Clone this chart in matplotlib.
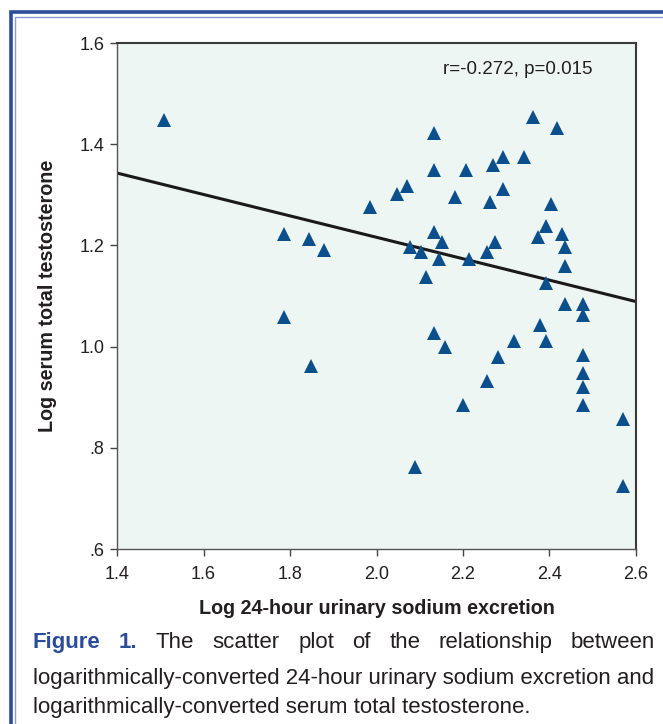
import matplotlib
matplotlib.use("Agg")
import matplotlib.pyplot as plt
from matplotlib.patches import Rectangle

plt.rcParams['font.family'] = ['Liberation Sans', 'DejaVu Sans']

# --- data ---
sodium_log = [1.509, 1.985, 1.787, 1.843, 1.879, 1.787, 1.849, 2.361, 2.417, 2.133,
              2.293, 2.342, 2.269, 2.133, 2.207, 2.071, 2.047, 2.293, 2.182, 2.262,
              2.404, 2.392, 2.373, 2.429, 2.435, 2.435, 2.133, 2.151, 2.077, 2.102,
              2.145, 2.114, 2.213, 2.275, 2.256, 2.392, 2.435, 2.478, 2.478, 2.379,
              2.133, 2.158, 2.318, 2.392, 2.281, 2.478, 2.478, 2.478, 2.478, 2.256,
              2.201, 2.571, 2.090, 2.571]
testo_log = [1.448, 1.275, 1.222, 1.212, 1.190, 1.058, 0.962, 1.454, 1.433, 1.422,
             1.375, 1.375, 1.358, 1.349, 1.349, 1.317, 1.301, 1.312, 1.296, 1.286,
             1.281, 1.238, 1.216, 1.222, 1.196, 1.159, 1.227, 1.206, 1.196, 1.186,
             1.174, 1.137, 1.174, 1.206, 1.186, 1.126, 1.084, 1.084, 1.063, 1.042,
             1.026, 0.999, 1.011, 1.011, 0.979, 0.984, 0.947, 0.921, 0.884, 0.932,
             0.884, 0.857, 0.762, 0.725]

# regression line end points
fit_x = [1.4, 2.6]
fit_y = [1.343, 1.089]

x_ticks = [1.4, 1.6, 1.8, 2.0, 2.2, 2.4, 2.6]
x_tick_labels = ['1.4', '1.6', '1.8', '2.0', '2.2', '2.4', '2.6']
y_ticks = [0.6, 0.8, 1.0, 1.2, 1.4, 1.6]
y_tick_labels = ['.6', '.8', '1.0', '1.2', '1.4', '1.6']

stats_text = 'r=-0.272, p=0.015'
caption_head = ['Figure', '1.']
caption_line1 = ['The', 'scatter', 'plot', 'of', 'the', 'relationship', 'between']
caption_line2 = 'logarithmically-converted 24-hour urinary sodium excretion and'
caption_line3 = 'logarithmically-converted serum total testosterone.'

W, H = 663, 724
TEXT = '#231f20'
BLUE = '#2b4c9b'

fig = plt.figure(figsize=(W / 100, H / 100), dpi=100)
fig.patch.set_facecolor('white')

# double frame round the figure (runs off right/bottom edge)
fig.add_artist(Rectangle((10.5 / W, -0.1), 2.0, 1.1 - 12.5 / H,
                         transform=fig.transFigure, fill=False,
                         edgecolor=BLUE, linewidth=2.6))
fig.add_artist(Rectangle((14.8 / W, -0.1), 2.0, 1.1 - 16.8 / H,
                         transform=fig.transFigure, fill=False,
                         edgecolor='#8a9bd0', linewidth=1.0))

ax = fig.add_axes([117 / W, 1 - 549 / H, (636 - 117) / W, (549 - 43) / H])
ax.set_facecolor('#eef6f3')

ax.plot(fit_x, fit_y, color='#1a1a1a', linewidth=2.2, zorder=2)
ax.plot(sodium_log, testo_log, linestyle='none', marker='^', markersize=9.5,
        color='#0b4f8c', markeredgewidth=0, zorder=3)

ax.set_xlim(1.4, 2.6)
ax.set_ylim(0.6, 1.6)
ax.set_xticks(x_ticks)
ax.set_xticklabels(x_tick_labels)
ax.set_yticks(y_ticks)
ax.set_yticklabels(y_tick_labels)
ax.tick_params(direction='out', length=5, width=1.0, color='#444444',
               labelsize=13, labelcolor=TEXT)
ax.tick_params(axis='x', pad=7)
ax.tick_params(axis='y', pad=4)
for side in ['left', 'bottom']:
    ax.spines[side].set_color('#555555')
    ax.spines[side].set_linewidth(1.0)
for side in ['top', 'right']:
    ax.spines[side].set_color('#3a3a3a')
    ax.spines[side].set_linewidth(1.5)

ax.set_xlabel('Log 24-hour urinary sodium excretion', fontsize=14.2,
              fontweight='bold', color=TEXT, labelpad=12)
ax.set_ylabel('Log serum total testosterone', fontsize=14.2,
              fontweight='bold', color=TEXT, labelpad=16)

ax.text(0.773, 0.947, stats_text, transform=ax.transAxes, ha='center',
        va='center', fontsize=13.5, color=TEXT)

# --- caption, first line justified ---
left_px, right_px = 33, 655
base1, base2, base3 = 648, 684, 713
cap_size = 16

fig.canvas.draw()
renderer = fig.canvas.get_renderer()
words = []
for w in caption_head:
    words.append(fig.text(0, 1 - base1 / H, w, fontsize=cap_size,
                          fontweight='bold', color=BLUE, va='baseline'))
for w in caption_line1:
    words.append(fig.text(0, 1 - base1 / H, w, fontsize=cap_size,
                          color=TEXT, va='baseline'))
widths = [t.get_window_extent(renderer).width for t in words]
gap = (right_px - left_px - sum(widths)) / (len(words) - 1)
x = left_px
for t, wd in zip(words, widths):
    t.set_x(x / W)
    x += wd + gap

fig.text(left_px / W, 1 - base2 / H, caption_line2, fontsize=cap_size,
         color=TEXT, va='baseline')
fig.text(left_px / W, 1 - base3 / H, caption_line3, fontsize=cap_size,
         color=TEXT, va='baseline')

fig.savefig('out.png', dpi=100)
